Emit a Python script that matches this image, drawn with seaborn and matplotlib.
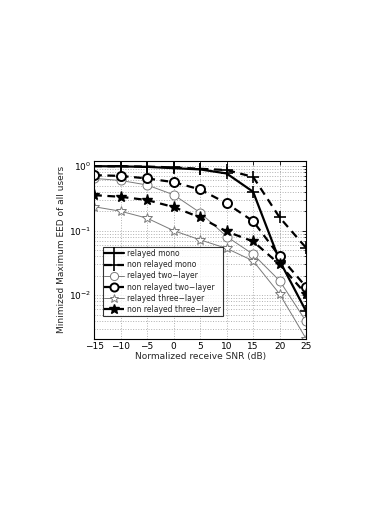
"""EED vs SNR, relayed / non relayed, log y."""
import numpy as np
import pandas as pd
import matplotlib
matplotlib.use('Agg')
import matplotlib.pyplot as plt
import seaborn as sns
from matplotlib.ticker import LogLocator, NullFormatter

snr = [-15, -10, -5, 0, 5, 10, 15, 20, 25]

relayed_mono = [1.0, 0.99, 0.975, 0.93, 0.89, 0.77, 0.40, 0.034, 0.0056]
nonrelayed_mono = [1.0, 0.995, 0.985, 0.955, 0.91, 0.87, 0.68, 0.16, 0.054]
relayed_two = [0.645, 0.60, 0.51, 0.36, 0.19, 0.081, 0.043, 0.0167, 0.0039]
nonrelayed_two = [0.725, 0.705, 0.645, 0.565, 0.435, 0.265, 0.14, 0.040, 0.0134]
relayed_three = [0.235, 0.20, 0.156, 0.10, 0.072, 0.053, 0.034, 0.0104, 0.0021]
nonrelayed_three = [0.355, 0.335, 0.298, 0.232, 0.16, 0.097, 0.068, 0.030, 0.0103]

labels = ['relayed mono', 'non relayed mono', 'relayed two\u2212layer',
          'non relayed two\u2212layer', 'relayed three\u2212layer',
          'non relayed three\u2212layer']

sns.set_theme(style='white')
plt.rcParams['font.family'] = ['DejaVu Sans']
plt.rcParams['xtick.direction'] = 'in'
plt.rcParams['ytick.direction'] = 'in'

fig = plt.figure(figsize=(3.92, 5.08), dpi=100)
ax = fig.add_axes([0.240, 0.333, 0.541, 0.350])

series = [relayed_mono, nonrelayed_mono, relayed_two, nonrelayed_two,
          relayed_three, nonrelayed_three]
dash = (0, (3.5, 2.5))
gray = '#7a7a7a'
styles = [
    dict(color='black', linestyle='-', linewidth=1.6, marker='+', markersize=9,
         markeredgecolor='black', markeredgewidth=1.2),
    dict(color='black', linestyle=dash, linewidth=1.6, marker='+', markersize=9,
         markeredgecolor='black', markeredgewidth=1.2),
    dict(color=gray, linestyle='-', linewidth=0.7, marker='o', markersize=6.5,
         markerfacecolor='white', markeredgecolor=gray, markeredgewidth=0.7),
    dict(color='black', linestyle=dash, linewidth=1.6, marker='o', markersize=6.5,
         markerfacecolor='white', markeredgecolor='black', markeredgewidth=1.4),
    dict(color=gray, linestyle='-', linewidth=0.7, marker='*', markersize=7,
         markerfacecolor='white', markeredgecolor=gray, markeredgewidth=0.7),
    dict(color='black', linestyle=dash, linewidth=1.6, marker='*', markersize=8,
         markerfacecolor='black', markeredgecolor='black', markeredgewidth=1.0),
]

for vals, lab, st in zip(series, labels, styles):
    df = pd.DataFrame({'snr': snr, 'eed': vals})
    sns.lineplot(data=df, x='snr', y='eed', ax=ax, label=lab, color=st['color'])
    ax.lines[-1].set(**st)

ax.set_yscale('log')
ax.set_xlim(-15, 25)
ax.set_ylim(2.1e-3, 1.2)
ax.set_xticks(range(-15, 30, 5))
ax.set_xticklabels([str(v).replace('-', '\u2212') for v in range(-15, 30, 5)])
ax.yaxis.set_major_locator(LogLocator(base=10, numticks=10))
ax.yaxis.set_minor_locator(LogLocator(base=10, subs=np.arange(2, 10), numticks=20))
ax.yaxis.set_minor_formatter(NullFormatter())

ax.grid(True, which='major', color='#b0b0b0', linestyle=':', linewidth=0.7)
ax.grid(True, which='minor', axis='y', color='#b0b0b0', linestyle=':', linewidth=0.7)
ax.tick_params(axis='both', which='both', labelsize=6.5, top=True, right=True,
               length=3, width=0.6, colors='black', pad=2)
ax.tick_params(which='minor', length=1.5)
for s in ax.spines.values():
    s.set_linewidth(0.8)
    s.set_color('black')

ax.set_xlabel('Normalized receive SNR (dB)', fontsize=6.5, labelpad=1)
ax.set_ylabel('Minimized Maximum EED of all users', fontsize=6.5, labelpad=2)

leg = ax.legend(loc='lower left', bbox_to_anchor=(0.04, 0.13), fontsize=5.5,
                frameon=True, fancybox=False, edgecolor='black',
                handlelength=2.6, borderpad=0.25, labelspacing=0.28,
                handletextpad=0.3, borderaxespad=0, markerscale=0.9)
leg.get_frame().set_linewidth(0.8)

fig.savefig('out.png', dpi=100)
